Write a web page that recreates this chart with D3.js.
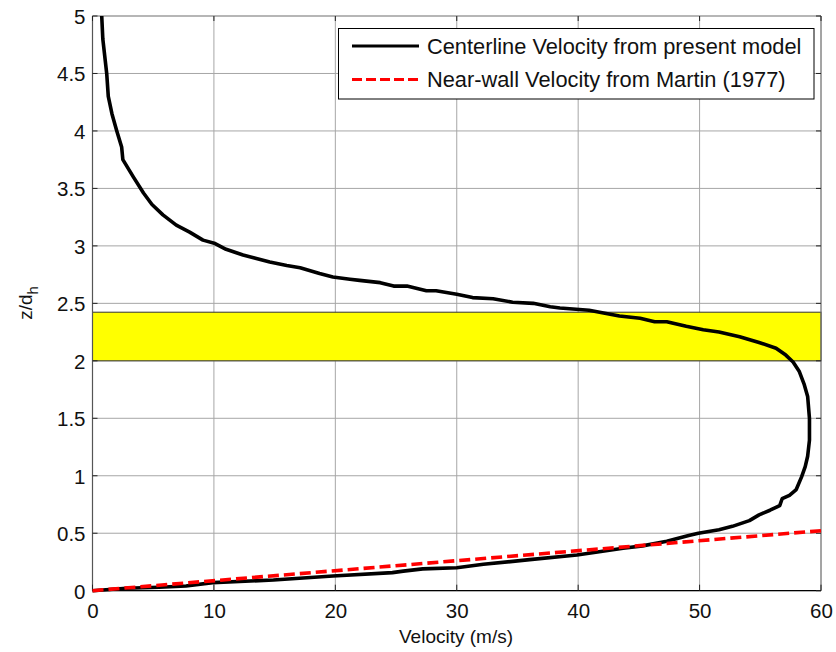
<!DOCTYPE html>
<html><head><meta charset="utf-8">
<script src="https://cdn.jsdelivr.net/npm/d3@7"></script>
<style>body{margin:0;background:#fff}svg{display:block}text{font-family:"Liberation Sans",Arial,sans-serif}</style>
</head><body><svg id="c" width="836" height="652"></svg>
<script>
const xTicks=[0,10,20,30,40,50,60];
const yTicks=[0,0.5,1,1.5,2,2.5,3,3.5,4,4.5,5];
const yTickLabels=["0","0.5","1","1.5","2","2.5","3","3.5","4","4.5","5"];
const centerV=[0.76,0.85,1.17,1.3,1.6,2.0,2.4,2.5,3.36,4.2,4.9,5.8,6.9,8.0,9.1,10.1,11.0,12.4,13.5,14.6,16.0,17.1,18.7,19.8,21.2,22.0,23.7,24.8,25.9,27.5,28.3,30.0,31.3,33.0,34.6,36.3,37.7,38.5,40.9,43.4,45.1,46.3,47.3,48.9,50.3,51.6,53.3,54.9,56.3,57.1,57.7,58.2,58.6,58.9,59.05,59.05,58.9,58.7,58.4,57.96,57.4,56.8,56.6,55.8,54.9,54.1,52.7,51.6,49.9,49.1,47.3,45.3,43.7,39.9,36.0,32.2,30.0,27.2,25.6,24.7,19.8,14.9,9.9,7.7,5.5,2.8,0];
const centerZ=[5.0,4.8,4.5,4.3,4.15,4.0,3.86,3.75,3.60,3.46,3.36,3.27,3.18,3.12,3.05,3.02,2.97,2.92,2.89,2.86,2.83,2.81,2.76,2.73,2.71,2.70,2.68,2.65,2.65,2.61,2.61,2.58,2.55,2.54,2.51,2.50,2.47,2.46,2.44,2.39,2.37,2.34,2.34,2.30,2.27,2.25,2.21,2.16,2.11,2.05,1.99,1.91,1.80,1.69,1.50,1.31,1.17,1.08,0.99,0.88,0.83,0.80,0.74,0.70,0.66,0.61,0.56,0.53,0.50,0.48,0.43,0.39,0.37,0.31,0.27,0.23,0.20,0.19,0.17,0.157,0.128,0.093,0.070,0.041,0.030,0.021,0];
const martinV=[0,60];
const martinZ=[0,0.522];
const bandZ=[2.0,2.423];
const legendLabels=["Centerline Velocity from present model","Near-wall Velocity from Martin (1977)"];

const svg=d3.select("#c");
const L=92.5,R=821,T=16,B=590.7;
const x=d3.scaleLinear().domain([0,60]).range([L,R]);
const y=d3.scaleLinear().domain([0,5]).range([B,T]);

// grid
const g=svg.append("g");
g.selectAll(".vg").data(xTicks).enter().append("line")
 .attr("x1",d=>x(d)).attr("x2",d=>x(d)).attr("y1",T).attr("y2",B)
 .attr("stroke","#a6a6a6").attr("stroke-width",1);
g.selectAll(".hg").data(yTicks).enter().append("line")
 .attr("x1",L).attr("x2",R).attr("y1",d=>y(d)).attr("y2",d=>y(d))
 .attr("stroke","#a6a6a6").attr("stroke-width",1);

// yellow band
svg.append("rect").attr("x",x(0)).attr("y",y(bandZ[1])).attr("width",x(60)-x(0))
 .attr("height",y(bandZ[0])-y(bandZ[1])).attr("fill","#ffff00").attr("stroke","#333").attr("stroke-width",1);

// axes box
svg.append("line").attr("x1",L).attr("x2",L).attr("y1",T).attr("y2",B).attr("stroke","#555").attr("stroke-width",1.2);
svg.append("line").attr("x1",R).attr("x2",R).attr("y1",T).attr("y2",B).attr("stroke","#777").attr("stroke-width",1);
svg.append("line").attr("x1",L).attr("x2",R).attr("y1",B).attr("y2",B).attr("stroke","#000").attr("stroke-width",1.2);
svg.append("line").attr("x1",L).attr("x2",R).attr("y1",T).attr("y2",T).attr("stroke","#999").attr("stroke-width",1);

// ticks
const ax=d3.axisBottom(x).tickValues(xTicks).tickSize(0).tickPadding(0).tickFormat(d3.format("d"));
const xa=svg.append("g").attr("transform",`translate(0,${B})`).call(ax);
xa.select(".domain").remove();
xa.selectAll("text").attr("font-size",20.5).attr("fill","#111").attr("dy",null).attr("y",27.5);
const ay=d3.axisLeft(y).tickValues(yTicks).tickSize(0).tickPadding(0).tickFormat((d,i)=>yTickLabels[i]);
const ya=svg.append("g").attr("transform",`translate(85.5,0)`).call(ay);
ya.select(".domain").remove();
ya.selectAll("text").attr("font-size",20.5).attr("fill","#111").attr("x",0).attr("dy","0.36em");

const tk=svg.append("g").attr("stroke","#222").attr("stroke-width",1);
yTicks.forEach(v=>{
 tk.append("line").attr("x1",L).attr("x2",L+5).attr("y1",y(v)).attr("y2",y(v));
 tk.append("line").attr("x1",R-5).attr("x2",R).attr("y1",y(v)).attr("y2",y(v));
});
xTicks.forEach(v=>{
 tk.append("line").attr("x1",x(v)).attr("x2",x(v)).attr("y1",B).attr("y2",B-6);
 tk.append("line").attr("x1",x(v)).attr("x2",x(v)).attr("y1",T).attr("y2",T+5);
});

// data lines
const cdata=centerV.map((v,i)=>[v,centerZ[i]]);
const mdata=martinV.map((v,i)=>[v,martinZ[i]]);
const line=d3.line().x(d=>x(d[0])).y(d=>y(d[1]));
svg.append("path").datum(cdata).attr("d",line).attr("fill","none").attr("stroke","#000").attr("stroke-width",3.6).attr("stroke-linejoin","round");
svg.append("path").datum(mdata).attr("d",line).attr("fill","none").attr("stroke","#ff0000").attr("stroke-width",3.6).attr("stroke-dasharray","11,5");

// legend
const lg=svg.append("g");
lg.append("rect").attr("x",338.5).attr("y",28.5).attr("width",475.5).attr("height",70.5).attr("fill","#fff").attr("stroke","#000").attr("stroke-width",1);
lg.append("line").attr("x1",352).attr("x2",419).attr("y1",46).attr("y2",46).attr("stroke","#000").attr("stroke-width",3.2);
lg.append("line").attr("x1",352).attr("x2",419).attr("y1",79.5).attr("y2",79.5).attr("stroke","#ff0000").attr("stroke-width",3.2).attr("stroke-dasharray","10,4");
lg.selectAll("text").data(legendLabels).enter().append("text")
 .attr("x",427).attr("y",(d,i)=>[46,79.5][i]).attr("dy","0.36em").attr("font-size",21.8).attr("fill","#111").text(d=>d);

// axis labels
svg.append("text").attr("x",456).attr("y",643).attr("text-anchor","middle").attr("font-size",19).attr("fill","#111").text("Velocity (m/s)");
const yl=svg.append("text").attr("transform","translate(32,303) rotate(-90)").attr("text-anchor","middle").attr("font-size",19).attr("fill","#111");
yl.append("tspan").text("z/d");
yl.append("tspan").attr("font-size",15).attr("dy",6).text("h");
</script></body></html>
